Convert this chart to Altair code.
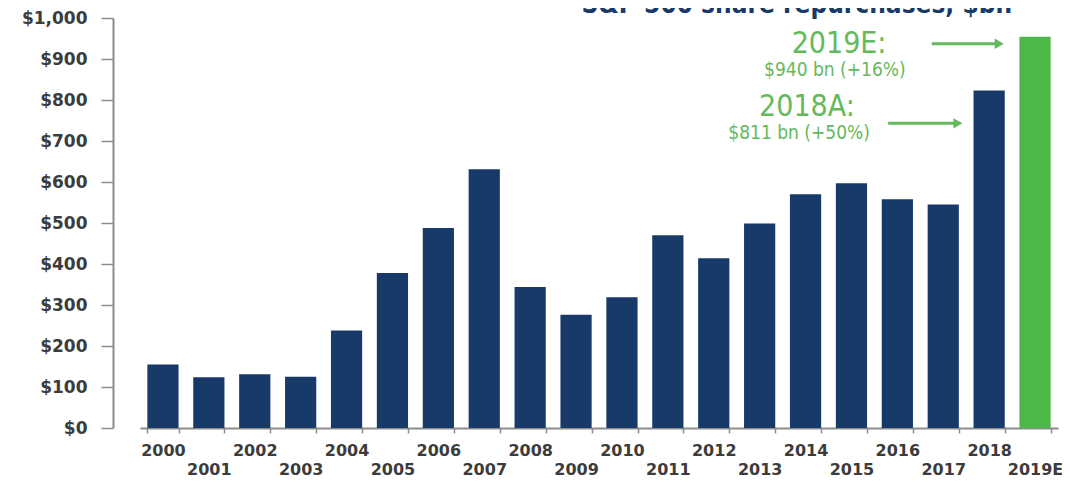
import altair as alt
import pandas as pd

# ---- data ----
years = ["2000", "2001", "2002", "2003", "2004", "2005", "2006", "2007", "2008", "2009",
         "2010", "2011", "2012", "2013", "2014", "2015", "2016", "2017", "2018", "2019E"]
values = [155, 124, 131, 125, 238, 378, 488, 631, 344, 276,
          319, 470, 414, 499, 570, 597, 558, 545, 823, 954]
kinds = ["Actual"] * 19 + ["Estimate"]

y_ticks = [0, 100, 200, 300, 400, 500, 600, 700, 800, 900, 1000]

# annotation texts (positions in bar-index / value units)
ann_labels = ["2019E:", "$940 bn (+16%)", "2018A:", "$811 bn (+50%)"]
ann_x = [15.23, 15.14, 14.53, 14.36]
ann_y = [915, 859, 762, 706]
ann_size = [30, 19, 30, 19]

arrow_x1 = [17.25, 16.30]
arrow_x2 = [18.66, 17.75]
arrow_head_x = [18.72, 17.82]
arrow_y = [937, 743]

title_text = ["S&P 500 share repurchases, $bn"]
title_x = [14.31]
title_y = [1012]

NAVY = "#173a69"
GREEN = "#4cb847"
ANN_GREEN = "#64b95b"
AXIS_GRAY = "#8c8c8c"
LABEL_GRAY = "#3c3c3c"
COND = "DejaVu Sans Condensed, Liberation Sans Narrow, Roboto Condensed, sans-serif"

df = pd.DataFrame({"year": years, "value": values, "kind": kinds})
ann_df = pd.DataFrame({"label": ann_labels, "x": ann_x, "y": ann_y, "size": ann_size})
arrow_df = pd.DataFrame({"x1": arrow_x1, "x2": arrow_x2, "hx": arrow_head_x, "y": arrow_y})
title_df = pd.DataFrame({"label": title_text, "x": title_x, "y": title_y})

yscale = alt.Scale(domain=[0, 1000], nice=False, zero=True)
iscale = alt.Scale(domain=[0, 20], nice=False, zero=False)

bars = alt.Chart(df).mark_bar().encode(
    x=alt.X("year:N", sort=years,
            scale=alt.Scale(paddingInner=0.32, paddingOuter=0.16),
            axis=alt.Axis(title=None, labelAngle=0, tickBand="extent", tickSize=5,
                          tickColor=AXIS_GRAY, tickWidth=1.5,
                          domainColor=AXIS_GRAY, domainWidth=2,
                          labelFont="DejaVu Sans", labelFontWeight="bold",
                          labelFontSize=16, labelColor=LABEL_GRAY,
                          labelBaseline="alphabetic", labelPadding=22,
                          labelLineHeight=19,
                          labelExpr="parseInt(datum.value) % 2 == 1 ? ['', datum.label] : datum.label")),
    y=alt.Y("value:Q", scale=yscale,
            axis=alt.Axis(title=None, values=y_ticks, format="$,.0f", grid=False,
                          offset=27, tickSize=12, tickColor=AXIS_GRAY, tickWidth=1.5,
                          domainColor=AXIS_GRAY, domainWidth=2,
                          labelFont="DejaVu Sans", labelFontWeight="bold",
                          labelFontSize=17, labelColor=LABEL_GRAY, labelPadding=14)),
    color=alt.Color("kind:N", scale=alt.Scale(domain=["Actual", "Estimate"], range=[NAVY, GREEN]),
                    legend=None),
)

ann_text = alt.Chart(ann_df).mark_text(
    font=COND, color=ANN_GREEN, align="center", baseline="alphabetic"
).encode(
    x=alt.X("x:Q", scale=iscale, axis=None),
    y=alt.Y("y:Q", scale=yscale, axis=None),
    text="label:N",
    size=alt.Size("size:Q", scale=None, legend=None),
)

arrow_lines = alt.Chart(arrow_df).mark_rule(color=ANN_GREEN, strokeWidth=3).encode(
    x=alt.X("x1:Q", scale=iscale, axis=None),
    x2="x2:Q",
    y=alt.Y("y:Q", scale=yscale, axis=None),
)

arrow_heads = alt.Chart(arrow_df).mark_point(
    shape="triangle-right", filled=True, size=110, color=ANN_GREEN, opacity=1
).encode(
    x=alt.X("hx:Q", scale=iscale, axis=None),
    y=alt.Y("y:Q", scale=yscale, axis=None),
)

title = alt.Chart(title_df).mark_text(
    font=COND, fontWeight="bold", fontSize=26, color=NAVY,
    align="center", baseline="alphabetic"
).encode(
    x=alt.X("x:Q", scale=iscale, axis=None),
    y=alt.Y("y:Q", scale=yscale, axis=None),
    text="label:N",
)

chart = alt.layer(bars, ann_text, arrow_lines, arrow_heads, title).resolve_scale(
    x="independent", y="independent"
).properties(
    width=918, height=410,
    background="white",
    autosize=alt.AutoSizeParams(type="none"),
    padding={"left": 132, "top": 10, "right": 4, "bottom": 47},
).configure_view(stroke=None)

chart.save("out.html", embed_options={"renderer": "svg", "actions": False})
